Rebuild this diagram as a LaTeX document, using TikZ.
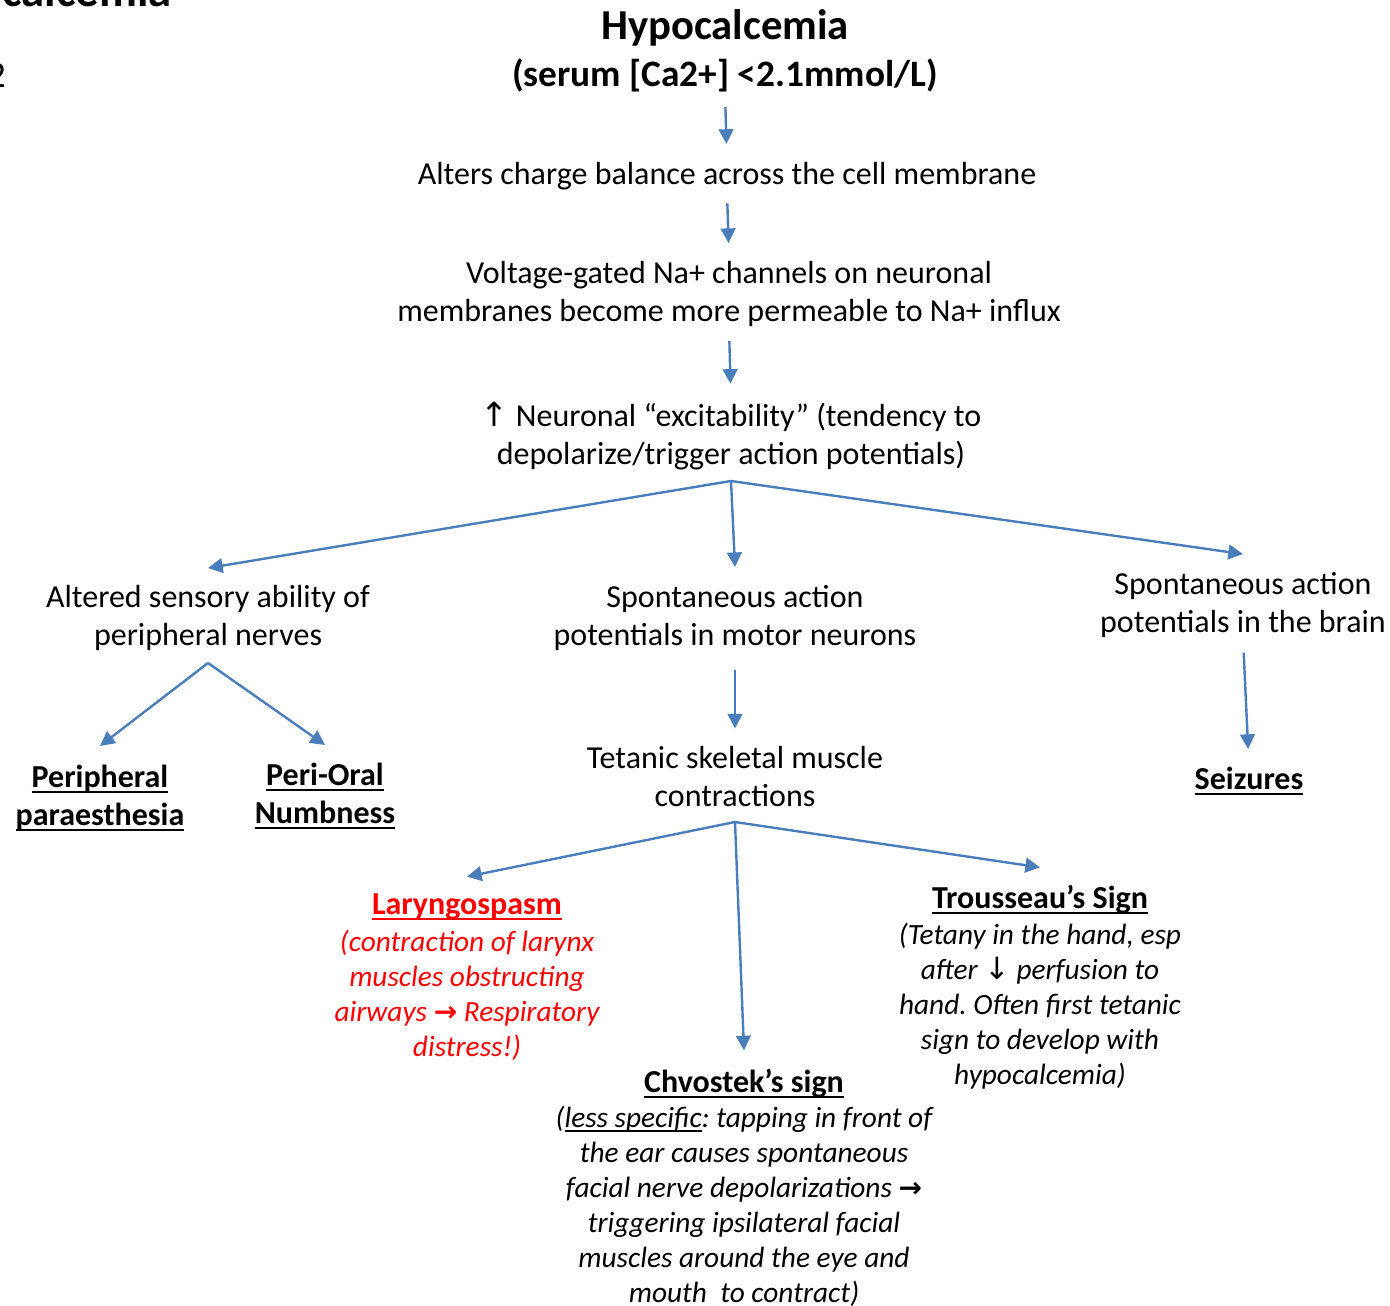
\documentclass[tikz,border=0pt]{standalone}
\usepackage{fontspec}
\setmainfont{Carlito}
\newfontfamily\symfont{DejaVu Sans}
\newcommand\ulx[1]{\setbox0\hbox{#1}\rlap{\rule[-3.8pt]{\wd0}{1.4pt}}\box0}
\usetikzlibrary{arrows.meta}
\definecolor{arrowblue}{HTML}{4A7EBB}
\definecolor{redtext}{HTML}{FF0000}
\frenchspacing
\begin{document}
\begin{tikzpicture}[x=0.75pt,y=-0.75pt,
  body/.style={align=center, inner sep=0pt, font=\fontsize{24}{28.5}\selectfont},
  headtxt/.style={align=center, inner sep=0pt, font=\bfseries\fontsize{24}{28.5}\selectfont},
  note/.style={align=center, inner sep=0pt, font=\itshape\fontsize{22}{26.25}\selectfont},
  arr/.style={draw=arrowblue, line width=1.8pt, -{Triangle[length=11pt,width=11pt]}}]
\useasboundingbox (0,0) rectangle (1390,1306);
\begin{scope}
\clip (0,0) rectangle (1390,1306);
\node[anchor=base east, inner sep=0pt, font=\bfseries\fontsize{35}{40}\selectfont] (frag1) at (172,7) {Hypocalcemia};
\node[anchor=base east, inner sep=0pt, font=\fontsize{28}{33}\selectfont] (frag2) at (6,88) {2};
\end{scope}

\node[align=center, inner sep=0pt, font=\bfseries\fontsize{28}{35.25}\selectfont] (title) at (725,51) {{\fontsize{32}{35.25}\selectfont Hypocalcemia}\\(serum [Ca2+] <2.1mmol/L)};
\node[body] (n1) at (727,176) {Alters charge balance across the cell membrane};
\node[body] (n2) at (729,294) {Voltage-gated Na+ channels on neuronal\\membranes become more permeable to Na+ influx};
\node[body] (n3) at (731,436) {{\symfont\fontsize{25}{22}\selectfont ↑} Neuronal “excitability” (tendency to\\depolarize/trigger action potentials)};
\node[body] (n4) at (208,618) {Altered sensory ability of\\peripheral nerves};
\node[body] (n5) at (735,618) {Spontaneous action\\potentials in motor neurons};
\node[body] (n6) at (1243,605) {Spontaneous action\\potentials in the brain};
\node[headtxt] (n7) at (100,798) {\ulx{Peripheral}\\\ulx{paraesthesia}};
\node[headtxt] (n8) at (325,796) {\ulx{Peri-Oral}\\\ulx{Numbness}};
\node[body] (n9) at (735,777) {Tetanic skeletal muscle\\contractions};
\node[headtxt] (seiz) at (1249,781) {\ulx{Seizures}};

\node[headtxt, text=redtext] (larT) at (467,907) {\ulx{Laryngospasm}};
\node[note, text=redtext] (larN) at (467,995) {(contraction of larynx\\muscles obstructing\\airways {\symfont\bfseries\upshape\fontsize{21}{20}\selectfont →} Respiratory\\distress!)};
\node[headtxt] (chvT) at (744,1084) {\ulx{Chvostek’s sign}};
\node[note] (chvN) at (744,1206) {(\ulx{less specific}: tapping in front of\\the ear causes spontaneous\\facial nerve depolarizations {\symfont\bfseries\upshape\fontsize{21}{20}\selectfont →}\\triggering ipsilateral facial\\muscles around the eye and\\mouth\ \ to contract)};
\node[headtxt] (trT) at (1040,900) {\ulx{Trousseau’s Sign}};
\node[note] (trN) at (1040,1006) {(Tetany in the hand, esp\\after {\symfont\upshape\fontsize{23}{20}\selectfont ↓} perfusion to\\hand. Often first tetanic\\sign to develop with\\hypocalcemia)};

\coordinate (b1) at (731,481);
\coordinate (b2) at (208,663);
\coordinate (b3) at (735,822);

\draw[arr, shorten <=11pt, shorten >=13.5pt] (title.south) -- (n1.north);
\draw[arr, shorten <=10pt, shorten >=13.5pt] (n1.south) -- (n2.north);
\draw[arr, shorten <=10.5pt, shorten >=13.5pt] (n2.south) -- (n3.north);
\draw[arr] (b1) -- ([yshift=12.75pt]n4.north);
\draw[arr] (b1) -- ([yshift=13.5pt]n5.north);
\draw[arr] (b1) -- ([yshift=13.5pt]n6.north);
\draw[arr] (b2) -- ([yshift=14.25pt]n7.north);
\draw[arr] (b2) -- ([yshift=13.5pt]n8.north);
\draw[arr, shorten <=14pt, shorten >=13.5pt] (n5.south) -- (n9.north);
\draw[arr, shorten <=11pt, shorten >=13.5pt] (n6.south) -- (seiz.north);
\draw[arr] (b3) -- ([yshift=12.75pt]larT.north);
\draw[arr] (b3) -- ([yshift=14.25pt]chvT.north);
\draw[arr] (b3) -- ([yshift=13.5pt]trT.north);
\end{tikzpicture}
\end{document}
